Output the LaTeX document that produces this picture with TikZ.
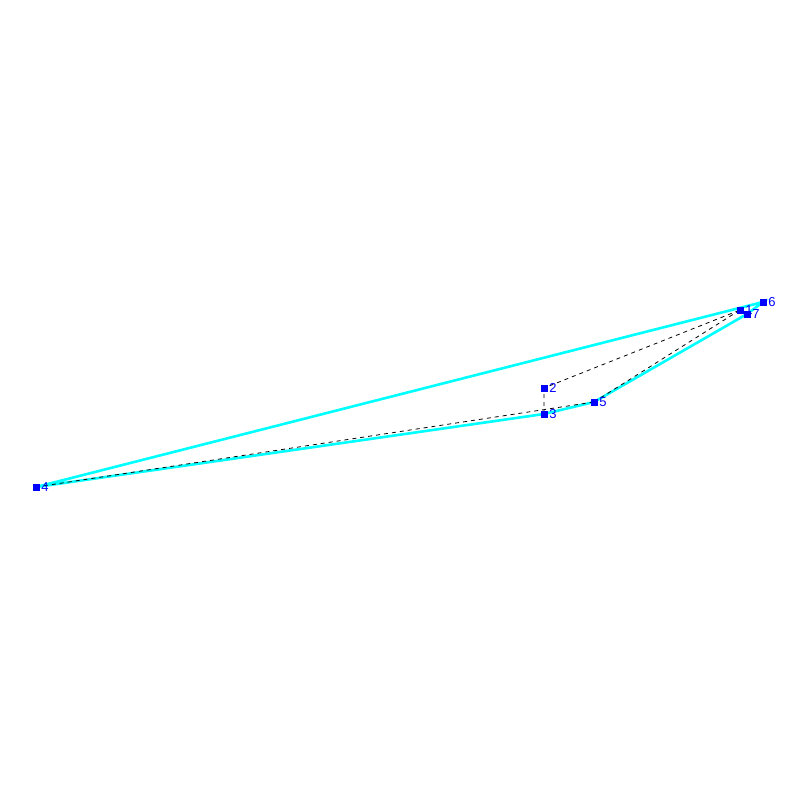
\documentclass[tikz,border=0pt]{standalone}
\usepackage{fontspec}
\setmainfont{Liberation Sans}
\definecolor{polycyan}{RGB}{0,255,255}
\definecolor{ptblue}{RGB}{0,0,255}
\begin{document}
\begin{tikzpicture}[x=1pt,y=-1pt,
    pt/.style={fill=ptblue,inner sep=0pt,minimum size=7pt,
      label={[text=ptblue,font=\fontsize{13}{13}\selectfont,inner sep=0pt,label distance=1.5pt]right:#1}},
    edge/.style={polycyan,line width=2.6pt},
    aux/.style={black,line width=0.8pt,dash pattern=on 4pt off 4pt}]
    \useasboundingbox (0,0) rectangle (800,800);

    % Lines
    \coordinate (c1) at (740,310);
    \coordinate (c2) at (544,388);
    \coordinate (c3) at (544,414);
    \coordinate (c4) at (36,487);
    \coordinate (c5) at (594,402);
    \coordinate (c6) at (763,302);
    \coordinate (c7) at (747,314);

    \draw[edge] (c4) -- (c6) -- (c7) -- (c5) -- (c3) -- cycle;

    \draw[aux] (c4) -- (c5);
    \draw[aux] (c3) -- (c2) -- (c1);
    \draw[aux] (c5) -- (c1);

    % Nodes
    \node[pt=1] (p1) at (c1) {};
    \node[pt=2] (p2) at (c2) {};
    \node[pt=3] (p3) at (c3) {};
    \node[pt=4] (p4) at (c4) {};
    \node[pt=5] (p5) at (c5) {};
    \node[pt=6] (p6) at (c6) {};
    \node[pt=7] (p7) at (c7) {};
\end{tikzpicture}
\end{document}
